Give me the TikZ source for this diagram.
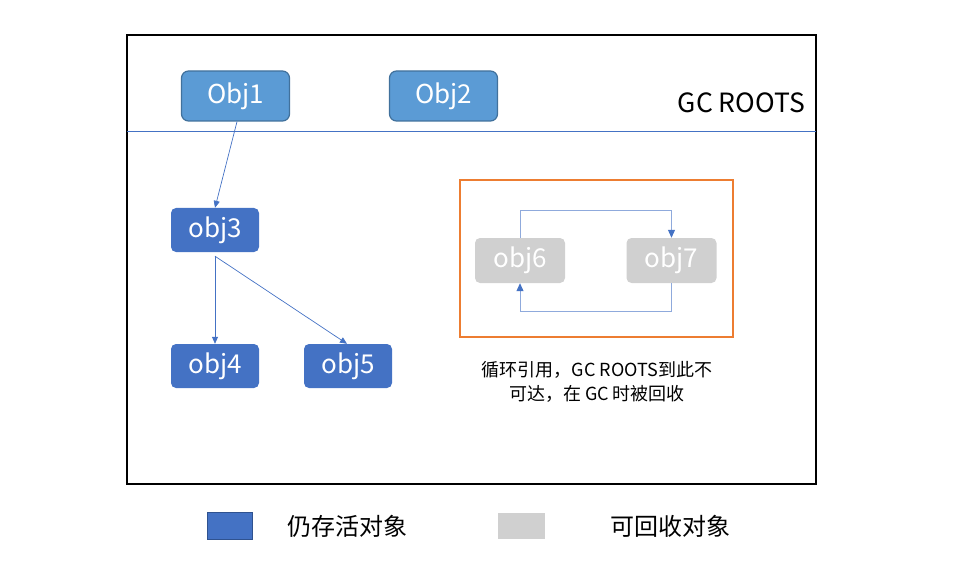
\documentclass[tikz,border=0pt]{standalone}
\usepackage{fontspec}
\setmainfont{Noto Sans CJK SC}
\usetikzlibrary{positioning,arrows.meta}
\definecolor{rootblue}{HTML}{5B9BD5}
\definecolor{rootedge}{HTML}{41719C}
\definecolor{liveblue}{HTML}{4472C4}
\definecolor{liveedge}{HTML}{2F528F}
\definecolor{deadgray}{HTML}{D0D0D0}
\definecolor{cycorange}{HTML}{ED7D31}
\definecolor{cycline}{HTML}{8FAADC}

\begin{document}
\begin{tikzpicture}[x=1pt,y=-1pt,
   root/.style={draw=rootedge,line width=1.2pt,fill=rootblue,rounded corners=7pt,
     minimum width=108pt,minimum height=50pt,text=white,font=\fontsize{26}{30}\selectfont},
   live/.style={fill=liveblue,rounded corners=5pt,minimum width=88pt,minimum height=44pt,
     text=white,font=\fontsize{26}{30}\selectfont},
   dead/.style={fill=deadgray,rounded corners=5pt,minimum width=90pt,minimum height=45pt,
     text=white,font=\fontsize{26}{30}\selectfont},
   link/.style={-{Triangle[length=7pt,width=6pt]},liveblue,line width=0.7pt},
   cyc/.style={-{Triangle[length=8pt,width=7pt,color=liveblue]},cycline,line width=1pt},
   keytxt/.style={inner sep=0pt,font=\fontsize{24}{28}\selectfont}]
   \useasboundingbox (0,0) rectangle (966,588);
   % heap frame and roots area
   \draw[line width=1.6pt] (127,35) rectangle (816,484);
   \draw[liveblue,line width=0.8pt] (127,131) -- (816,131);
   \node[root] (o1) at (235.5,96) {Obj1};
   \node[root] (o2) at (443.5,96) {Obj2};
   \node[anchor=east,inner sep=0pt,font=\fontsize{26.5}{30}\selectfont] (roots) at (805,103) {GC ROOTS};
   % reachable
   \node[live] (o3) at (215,230) {obj3};
   \node[live] (o4) at (215,366) {obj4};
   \node[live] (o5) at (348,366) {obj5};
   \draw[link] ([xshift=1.5pt]o1.south) -- (o3.north);
   \draw[link] ([yshift=-4pt]o3.south) -- (o4.north);
   \draw[link] ([yshift=-4pt]o3.south) -- ([xshift=-1pt]o5.north);
   % cycle
   \draw[cycorange,line width=1.5pt] (460,180) rectangle (733,337);
   \node[dead] (o6) at (520,260.5) {obj6};
   \node[dead] (o7) at (671.5,260.5) {obj7};
   \draw[cyc] (o6.north) -- ++(0,-27) -| (o7.north);
   \draw[cyc] (o7.south) -- ++(0,28) -| (o6.south);
   \node[align=center,font=\fontsize{18}{23.5}\selectfont] (note) at (597,382)
     {循环引用，GC ROOTS到此不\\可达，在 GC 时被回收};
   % legend
   \node[fill=liveblue,draw=liveedge,line width=1pt,minimum width=45pt,minimum height=27pt] (keylive) at (230,526) {};
   \node[keytxt,right=34pt of keylive] (keylivetxt) {仍存活对象};
   \node[fill=deadgray,minimum width=47pt,minimum height=26pt] (keydead) at (521.5,526) {};
   \node[keytxt,right=65pt of keydead] (keydeadtxt) {可回收对象};
\end{tikzpicture}
\end{document}
